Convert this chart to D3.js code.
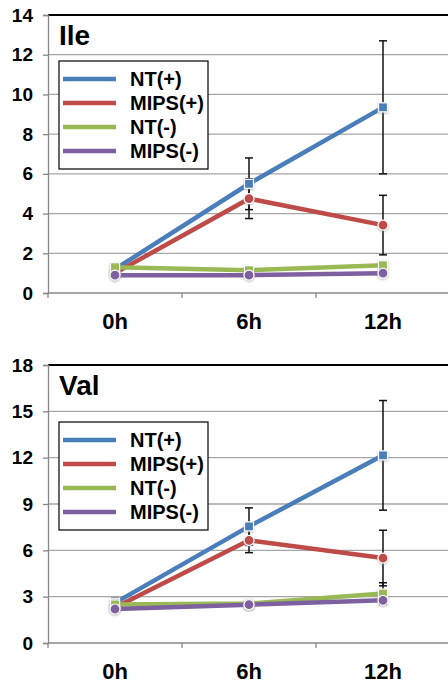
<!doctype html>
<html>
<head>
<meta charset="utf-8">
<script src="https://cdn.jsdelivr.net/npm/d3@7"></script>
<style>
  body { margin: 0; background: #fff; }
  text { font-family: "Liberation Sans", Arial, sans-serif; font-weight: bold; fill: #000; }
</style>
</head>
<body>
<script>
// categories and series
var times = ["0h", "6h", "12h"];
var seriesNames = ["NT(+)", "MIPS(+)", "NT(-)", "MIPS(-)"];
var seriesColors = ["#4a7ebb", "#be4b48", "#98b954", "#7d60a0"];
var seriesShapes = ["square", "circle", "square", "circle"];

// Ile panel
var ileTicks = [0, 2, 4, 6, 8, 10, 12, 14];
var ileNT_pos   = [1.2, 5.5, 9.35];
var ileMIPS_pos = [1.0, 4.75, 3.42];
var ileNT_neg   = [1.3, 1.15, 1.4];
var ileMIPS_neg = [0.9, 0.9, 1.0];
var ileErrNT_pos   = [0, 1.3, 3.35];
var ileErrMIPS_pos = [0, 1.0, 1.5];
var ileErrNT_neg   = [0, 0, 0];
var ileErrMIPS_neg = [0, 0, 0];

// Val panel
var valTicks = [0, 3, 6, 9, 12, 15, 18];
var valNT_pos   = [2.6, 7.55, 12.15];
var valMIPS_pos = [2.3, 6.65, 5.5];
var valNT_neg   = [2.5, 2.55, 3.2];
var valMIPS_neg = [2.2, 2.48, 2.76];
var valErrNT_pos   = [0.3, 1.2, 3.55];
var valErrMIPS_pos = [0, 0.8, 1.8];
var valErrNT_neg   = [0, 0, 0.7];
var valErrMIPS_neg = [0, 0, 0];

var W = 448, H = 684;
var svg = d3.select("body").append("svg")
    .attr("width", W)
    .attr("height", H);

var defs = svg.append("defs");
var glow = defs.append("filter").attr("id", "glow")
    .attr("x", "-50%").attr("y", "-50%").attr("width", "200%").attr("height", "200%");
glow.append("feDropShadow").attr("dx", 0).attr("dy", 1).attr("stdDeviation", 1)
    .attr("flood-color", "#888").attr("flood-opacity", 0.6);

var drawPanel = function(cfg){
    var g = svg.append("g");

    var x = d3.scaleBand()
        .domain(times)
        .range([48, 450]);

    var y = d3.scaleLinear()
        .domain([0, d3.max(cfg.ticks)])
        .range([cfg.bottom, cfg.top]);

    // gridlines
    g.selectAll(".grid")
        .data(cfg.ticks.slice(1, -1))
        .enter().append("line")
        .attr("x1", 48).attr("x2", 450)
        .attr("y1", function(d){ return y(d); })
        .attr("y2", function(d){ return y(d); })
        .attr("stroke", "#a6a6a6")
        .attr("stroke-width", 1.3);

    // top frame line
    g.append("line")
        .attr("x1", 48).attr("x2", 450)
        .attr("y1", cfg.top).attr("y2", cfg.top)
        .attr("stroke", "#000").attr("stroke-width", 2);

    // y axis
    var yAxis = g.append("g")
        .attr("transform", "translate(48,0)")
        .call(d3.axisLeft(y).tickValues(cfg.ticks).tickSize(5).tickPadding(10));
    yAxis.select(".domain").attr("stroke", "#888").attr("stroke-width", 1.3);
    yAxis.selectAll(".tick line").attr("stroke", "#888").attr("stroke-width", 1.3);
    yAxis.selectAll(".tick text")
        .attr("font-size", "19px")
        .attr("font-family", "Liberation Sans, Arial, sans-serif")
        .attr("font-weight", "bold")
        .attr("fill", "#000");

    // x axis
    g.append("line")
        .attr("x1", 48).attr("x2", 450)
        .attr("y1", cfg.bottom).attr("y2", cfg.bottom)
        .attr("stroke", "#888").attr("stroke-width", 1.3);
    g.selectAll(".xtick")
        .data([0, 1, 2, 3])
        .enter().append("line")
        .attr("x1", function(d){ return 48 + d * x.step(); })
        .attr("x2", function(d){ return 48 + d * x.step(); })
        .attr("y1", cfg.bottom).attr("y2", cfg.bottom + 5)
        .attr("stroke", "#888").attr("stroke-width", 1.3);
    g.selectAll(".xlabel")
        .data(times)
        .enter().append("text")
        .attr("x", function(d){ return x(d) + x.bandwidth() / 2; })
        .attr("y", cfg.bottom + 36)
        .attr("text-anchor", "middle")
        .attr("font-size", "22px")
        .text(function(d){ return d; });

    var cx = function(i){ return x(times[i]) + x.bandwidth() / 2; };

    // error bars
    cfg.series.forEach(function(s, si){
        var eg = g.append("g");
        s.forEach(function(v, i){
            var e = cfg.errs[si][i];
            if (!e) return;
            eg.append("line")
                .attr("x1", cx(i)).attr("x2", cx(i))
                .attr("y1", y(v + e)).attr("y2", y(v - e))
                .attr("stroke", "#111").attr("stroke-width", 1.5);
            [v + e, v - e].forEach(function(t){
                eg.append("line")
                    .attr("x1", cx(i) - 4).attr("x2", cx(i) + 4)
                    .attr("y1", y(t)).attr("y2", y(t))
                    .attr("stroke", "#111").attr("stroke-width", 1.5);
            });
        });
    });

    // lines and markers
    var line = d3.line()
        .x(function(d, i){ return cx(i); })
        .y(function(d){ return y(d); });

    cfg.series.forEach(function(s, si){
        g.append("path")
            .datum(s)
            .attr("d", line)
            .attr("fill", "none")
            .attr("stroke", seriesColors[si])
            .attr("stroke-width", 4.5);
    });
    cfg.series.forEach(function(s, si){
        var mg = g.append("g").attr("filter", "url(#glow)");
        s.forEach(function(v, i){
            if (seriesShapes[si] == "square") {
                mg.append("rect")
                    .attr("x", cx(i) - 4.5).attr("y", y(v) - 4.5)
                    .attr("width", 9).attr("height", 9)
                    .attr("fill", seriesColors[si])
                    .attr("stroke", "#fff").attr("stroke-width", 1.2);
            } else {
                mg.append("circle")
                    .attr("cx", cx(i)).attr("cy", y(v))
                    .attr("r", 5)
                    .attr("fill", seriesColors[si])
                    .attr("stroke", "#fff").attr("stroke-width", 1.2);
            }
        });
    });

    // title
    g.append("text")
        .attr("x", 59).attr("y", cfg.top + 30)
        .attr("font-size", "28px")
        .text(cfg.title);

    // legend
    var lg = g.append("g").attr("transform", "translate(59," + cfg.legendTop + ")");
    lg.append("rect")
        .attr("x", 0).attr("y", 0)
        .attr("width", 149).attr("height", 108)
        .attr("fill", "#fff")
        .attr("stroke", "#000").attr("stroke-width", 1.2);
    seriesNames.forEach(function(n, i){
        var yy = 18 + i * 24;
        lg.append("line")
            .attr("x1", 4).attr("x2", 57)
            .attr("y1", yy).attr("y2", yy)
            .attr("stroke", seriesColors[i]).attr("stroke-width", 4.5);
        lg.append("text")
            .attr("x", 71).attr("y", yy + 7)
            .attr("font-size", "20px")
            .text(n);
    });
};

drawPanel({
    title: "Ile",
    top: 15, bottom: 293, legendTop: 61,
    ticks: ileTicks,
    series: [ileNT_pos, ileMIPS_pos, ileNT_neg, ileMIPS_neg],
    errs: [ileErrNT_pos, ileErrMIPS_pos, ileErrNT_neg, ileErrMIPS_neg]
});

drawPanel({
    title: "Val",
    top: 365, bottom: 643, legendTop: 422,
    ticks: valTicks,
    series: [valNT_pos, valMIPS_pos, valNT_neg, valMIPS_neg],
    errs: [valErrNT_pos, valErrMIPS_pos, valErrNT_neg, valErrMIPS_neg]
});
</script>
</body>
</html>
